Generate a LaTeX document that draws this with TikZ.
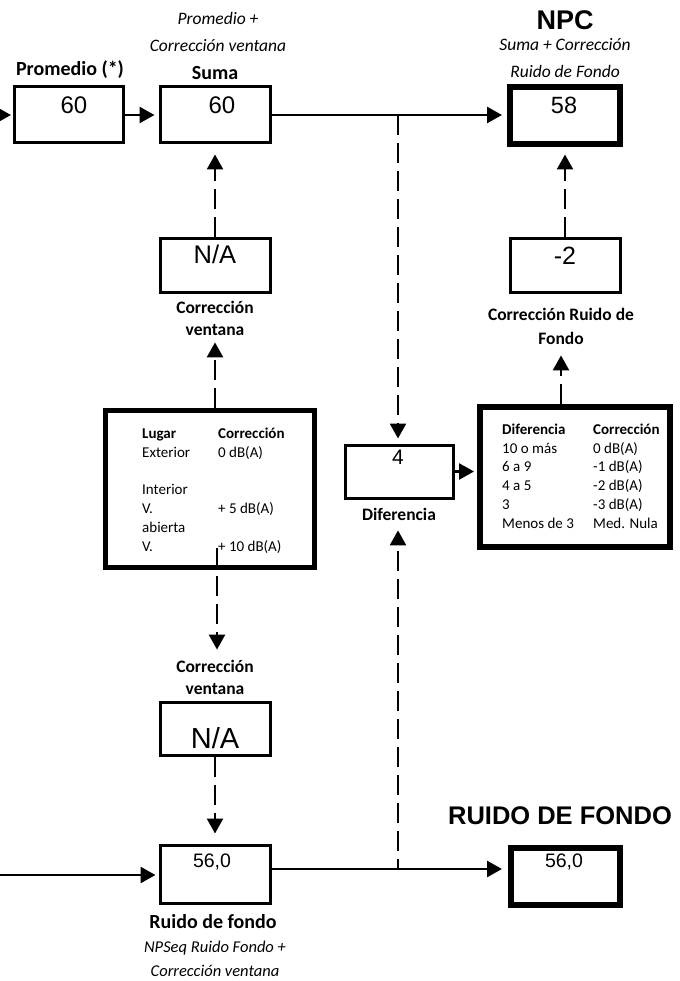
\documentclass[tikz,border=0pt]{standalone}
\usepackage{fontspec}
\setmainfont{Carlito}
\newfontfamily\arialf{Liberation Sans}
\usetikzlibrary{arrows.meta,calc}
\begin{document}
\begin{tikzpicture}[x=1pt,y=-1pt,
 box/.style={draw,line width=3pt,inner sep=0,minimum width=110pt},
 thickbox/.style={draw,line width=6pt,inner sep=0},
 num/.style={font=\arialf\fontsize{24}{24}\selectfont,inner sep=0},
 lab/.style={font=\bfseries\fontsize{17.5}{22}\selectfont,align=center,inner sep=0},
 itl/.style={font=\itshape\fontsize{17.5}{27}\selectfont,align=center,inner sep=0},
 conn/.style={line width=2.5pt,-{Triangle[length=15pt,width=16pt]},shorten >=3pt},
 dconn/.style={conn,dash pattern=on 20pt off 8pt},
]
\useasboundingbox (0,0) rectangle (679,981);
% boxes
\node[box,minimum width=109pt,minimum height=56pt] (prom) at (68.5,115) {};
\node[box,minimum height=56pt] (suma) at (215,115) {};
\node[thickbox,minimum width=110pt,minimum height=57pt] (npc) at (565,116) {};
\node[box,minimum height=53pt] (na1) at (215,265.5) {};
\node[box,minimum height=53pt] (mr2) at (565,265.5) {};
\node[draw,line width=5pt,minimum width=209pt,minimum height=157pt,inner sep=0] (lug) at (210,489) {};
\node[box,minimum width=108pt,minimum height=53pt] (dif) at (399,471.5) {};
\node[thickbox,minimum width=190pt,minimum height=140pt] (tab) at (575,477) {};
\node[box,minimum height=53pt] (na2) at (215,728.5) {};
\node[box,minimum height=58pt] (rf) at (215,874) {};
\node[thickbox,minimum width=109pt,minimum height=57pt] (RF) at (565.5,876.5) {};
% numbers
\node[num] (tprom) at (74,105) {60};
\node[num] (tsuma) at (222,105) {60};
\node[num,font=\arialf\fontsize{23.5}{23}\selectfont] (tnpc) at (564,105) {58};
\node[num,font=\arialf\fontsize{25.5}{25}\selectfont] (tna1) at (215,254) {N/A};
\node[num,font=\arialf\fontsize{25}{25}\selectfont] (tmr2) at (565,256) {-2};
\node[num,font=\arialf\fontsize{21}{21}\selectfont] (tdif) at (398,457) {4};
\node[num,font=\arialf\fontsize{29}{29}\selectfont] (tna2) at (215,738) {N/A};
\node[num,font=\arialf\fontsize{19.5}{19}\selectfont] (trf) at (212,862) {56,0};
\node[num,font=\arialf\fontsize{19.5}{19}\selectfont] (tRFn) at (564,862) {56,0};
% labels
\node[lab,font=\bfseries\fontsize{20}{24}\selectfont] (lprom) at (70,70) {Promedio (*)};
\node[lab,font=\bfseries\fontsize{20}{24}\selectfont] (lsuma) at (215,73) {Suma};
\node[itl] (isuma) at (218,31.5) {Promedio +\\Corrección ventana};
\node[font=\arialf\bfseries\fontsize{27}{27}\selectfont,inner sep=0] (tNPC) at (565,20) {NPC};
\node[itl] (inpc) at (565,58.5) {Suma + Corrección\\Ruido de Fondo};
\node[lab] (lna1) at (215,318) {Corrección\\ventana};
\node[lab,font=\bfseries\fontsize{17.5}{24}\selectfont] (lmr2) at (561,326) {Corrección Ruido de\\Fondo};
\node[lab] (ldif) at (399,514) {Diferencia};
\node[lab] (lna2) at (215,677) {Corrección\\ventana};
\node[lab,font=\bfseries\fontsize{20}{24}\selectfont] (lrf) at (213,922) {Ruido de fondo};
\node[itl,font=\itshape\fontsize{16.5}{24}\selectfont] (irf) at (215,959) {NPSeq Ruido Fondo +\\Corrección ventana};
\node[font=\arialf\bfseries\fontsize{25.5}{25}\selectfont,inner sep=0] (tRF) at (560,816) {RUIDO DE FONDO};
% tables
\node[anchor=west,inner sep=0,font=\fontsize{15}{18.8}\selectfont] (lugt) at (142,491) {%
\begin{tabular}{@{}p{76pt}@{}l@{}}
\textbf{Lugar} & \textbf{Corrección}\\
Exterior & 0 dB(A)\\
 & \\
Interior & \\
V. & + 5 dB(A)\\
abierta & \\
V. & + 10 dB(A)
\end{tabular}};
\node[anchor=west,inner sep=0,font=\fontsize{15}{18.8}\selectfont] (tabt) at (502,477.5) {%
\begin{tabular}{@{}p{91pt}@{}l@{}}
\textbf{Diferencia} & \textbf{Corrección}\\
10 o más & 0 dB(A)\\
6 a 9 & -1 dB(A)\\
4 a 5 & -2 dB(A)\\
3 & -3 dB(A)\\
Menos de 3 & Med. Nula
\end{tabular}};
% connectors
\coordinate (in1) at (0,115);
\coordinate (in2) at (0,875);
\coordinate (j1) at (398,115);
\coordinate (j2) at (398,869);
\coordinate (l1) at (217,548);
\draw[conn,shorten >=1.5pt] (in1) -- (prom.west);
\draw[conn,shorten >=4pt] (prom.east) -- (suma.west);
\draw[conn,shorten >=5pt] (suma.east) -- (npc.west |- suma.east);
\draw[dconn,shorten >=5pt] (j1) -- (dif.north -| j1);
\draw[dconn,shorten >=10pt] (na1.north) -- (suma.south);
\draw[dconn,shorten >=0pt] (lug.north -| lna1) -- ($(lna1.south)+(0,7)$);
\draw[dconn,shorten >=10pt] (l1) -- (lna2.north -| l1);
\draw[dconn,shorten >=10pt] (na2.south) -- (rf.north);
\draw[conn,shorten >=3pt] (in2) -- (rf.west |- in2);
\draw[conn,shorten >=6pt] (rf.east |- j2) -- (RF.west |- j2);
\draw[dconn,shorten >=0pt,dash phase=10pt] (j2) -- ($(ldif.south -| j2)+(0,10)$);
\draw[conn,shorten >=3pt] (dif.east) -- (tab.west |- dif.east);
\draw[dconn,shorten >=0pt] (tab.north -| lmr2) -- ($(lmr2.south)+(0,11)$);
\draw[dconn,shorten >=7pt] (mr2.north) -- (npc.south);
\end{tikzpicture}
\end{document}
